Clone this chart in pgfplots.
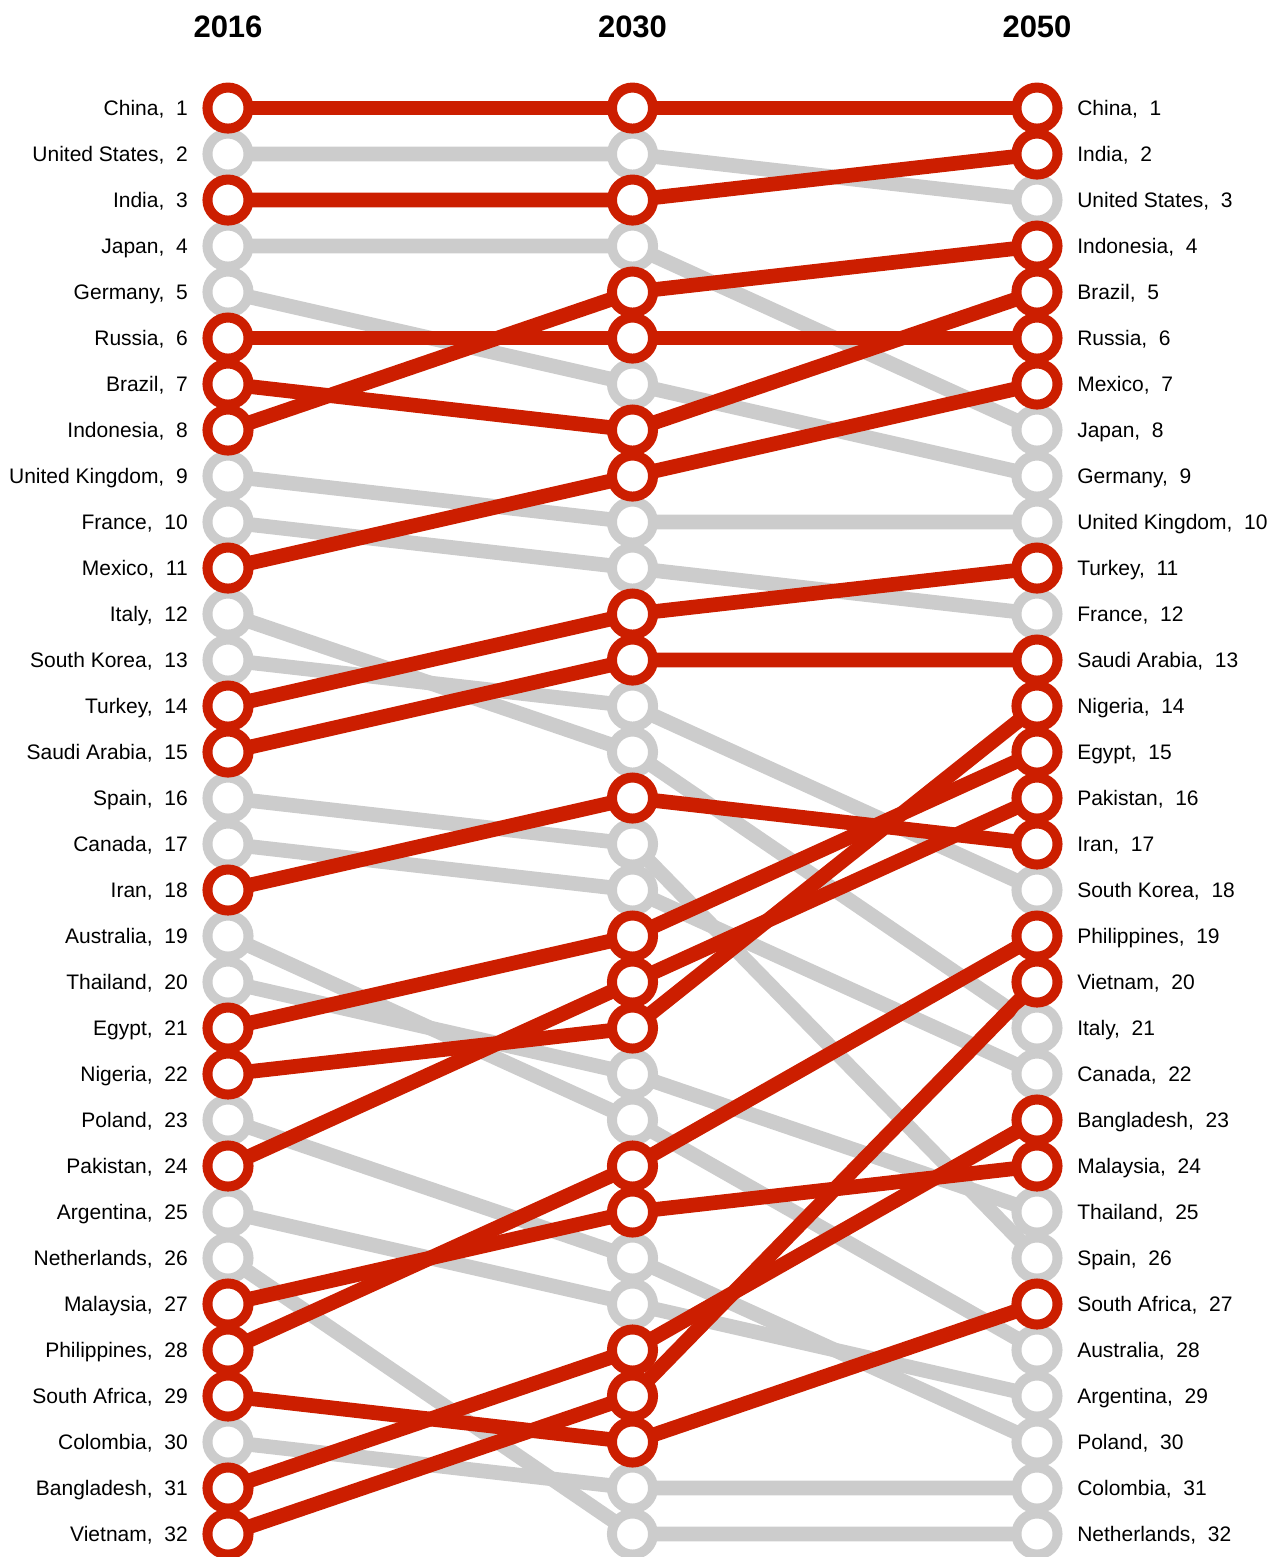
\documentclass[border=0pt]{standalone}
\usepackage{pgfplots}
\pgfplotsset{compat=1.18}
\usepackage{fontspec}
\setmainfont{Liberation Sans}
\definecolor{cred}{RGB}{204,30,0}
\definecolor{cgray}{RGB}{204,204,204}
\newcommand\labfont{\fontsize{15.75pt}{18pt}\selectfont}

% name, rank 2016, rank 2030, rank 2050
\newcommand\graylist{%
\C{cgray}{United States}{2}{2}{3}
\C{cgray}{Japan}{4}{4}{8}
\C{cgray}{Germany}{5}{7}{9}
\C{cgray}{United Kingdom}{9}{10}{10}
\C{cgray}{France}{10}{11}{12}
\C{cgray}{Italy}{12}{15}{21}
\C{cgray}{South Korea}{13}{14}{18}
\C{cgray}{Spain}{16}{17}{26}
\C{cgray}{Canada}{17}{18}{22}
\C{cgray}{Australia}{19}{23}{28}
\C{cgray}{Thailand}{20}{22}{25}
\C{cgray}{Poland}{23}{26}{30}
\C{cgray}{Argentina}{25}{27}{29}
\C{cgray}{Netherlands}{26}{32}{32}
\C{cgray}{Colombia}{30}{31}{31}
}
\newcommand\redlist{%
\C{cred}{China}{1}{1}{1}
\C{cred}{India}{3}{3}{2}
\C{cred}{Russia}{6}{6}{6}
\C{cred}{Brazil}{7}{8}{5}
\C{cred}{Indonesia}{8}{5}{4}
\C{cred}{Mexico}{11}{9}{7}
\C{cred}{Turkey}{14}{12}{11}
\C{cred}{Saudi Arabia}{15}{13}{13}
\C{cred}{Iran}{18}{16}{17}
\C{cred}{Egypt}{21}{19}{15}
\C{cred}{Nigeria}{22}{21}{14}
\C{cred}{Pakistan}{24}{20}{16}
\C{cred}{Malaysia}{27}{25}{24}
\C{cred}{Philippines}{28}{24}{19}
\C{cred}{South Africa}{29}{30}{27}
\C{cred}{Bangladesh}{31}{28}{23}
\C{cred}{Vietnam}{32}{29}{20}
}

\begin{document}
\begin{tikzpicture}
\begin{axis}[
  at={(0pt,0pt)}, anchor=south west,
  scale only axis, width=606.75pt, height=1069.5pt,
  xmin=0, xmax=2, ymin=1, ymax=32, y dir=reverse,
  axis lines=none, clip=false,
]
% lines: gray first, then red
\def\C#1#2#3#4#5{\addplot[draw=#1, line width=11pt, no marks] coordinates {(0,#3)(1,#4)(2,#5)};}
\graylist
\redlist
% markers and labels
\def\C#1#2#3#4#5{%
\addplot[only marks, mark=*, mark size=15.4pt, mark options={fill=white, draw=#1, line width=7.5pt}] coordinates {(0,#3)(1,#4)(2,#5)};
\node[anchor=base east, inner sep=0pt, yshift=-5.6pt, xshift=-30pt, font=\labfont] at (axis cs:0,#3) {#2,\ \ #3};
\node[anchor=base west, inner sep=0pt, yshift=-5.6pt, xshift=30pt, font=\labfont] at (axis cs:2,#5) {#2,\ \ #5};
}
\graylist
\redlist
\node[anchor=base, inner sep=0pt, yshift=53.25pt, font=\fontsize{23.25pt}{26pt}\selectfont\bfseries] at (axis cs:0,1) {2016};
\node[anchor=base, inner sep=0pt, yshift=53.25pt, font=\fontsize{23.25pt}{26pt}\selectfont\bfseries] at (axis cs:1,1) {2030};
\node[anchor=base, inner sep=0pt, yshift=53.25pt, font=\fontsize{23.25pt}{26pt}\selectfont\bfseries] at (axis cs:2,1) {2050};
\end{axis}
\pgfresetboundingbox
\path (-171pt,-17.25pt) rectangle (791.25pt,1150.5pt);
\end{tikzpicture}
\end{document}
